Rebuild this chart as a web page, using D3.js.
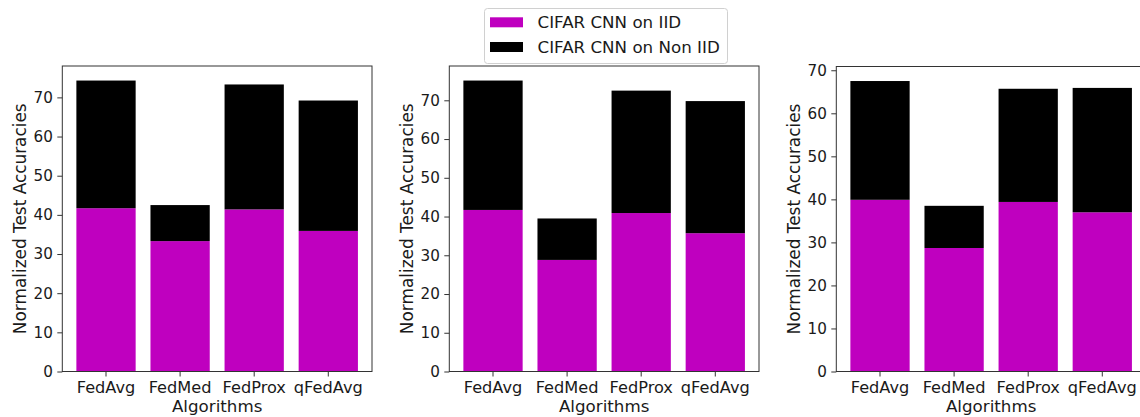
<!DOCTYPE html>
<html>
<head>
<meta charset="utf-8">
<script src="https://cdn.jsdelivr.net/npm/d3@7"></script>
<style>
  html, body { margin: 0; padding: 0; background: #fff; }
  svg { display: block; font-family: "DejaVu Sans", sans-serif; }
</style>
</head>
<body>
<svg id="chart" width="1140" height="417"></svg>
<script>
// Algorithms on the x axis
const algorithms = ["FedAvg", "FedMed", "FedProx", "qFedAvg"];

// Accuracy reached with IID data (lower segment of each stack)
const iidPanel1 = [41.7, 33.3, 41.4, 35.9];
const iidPanel2 = [41.7, 28.8, 40.9, 35.7];
const iidPanel3 = [39.9, 28.7, 39.4, 37.0];

// Additional accuracy with Non IID data (upper segment, stacked on IID)
const nonIidPanel1 = [32.6, 9.2, 31.9, 33.3];
const nonIidPanel2 = [33.4, 10.7, 31.6, 34.1];
const nonIidPanel3 = [27.6, 9.8, 26.3, 28.9];

const yTicks = [0, 10, 20, 30, 40, 50, 60, 70];
const seriesNames = ["CIFAR CNN on IID", "CIFAR CNN on Non IID"];
const seriesColors = ["#bf00bf", "#000000"];

const panels = [
  { iid: iidPanel1, non: nonIidPanel1, left: 62.3, top: 66 },
  { iid: iidPanel2, non: nonIidPanel2, left: 449.3, top: 66 },
  { iid: iidPanel3, non: nonIidPanel3, left: 836.3, top: 66.5 }
];

const axW = 309.7, axBottom = 371.5;
const xTickFont = 16.2;
const yTickFont = 15.2;
const labelFont = 16.7;
const textColor = "#1a1a1a";
const svg = d3.select("#chart");

panels.forEach(p => {
  const totals = p.iid.map((v, i) => v + p.non[i]);
  const yMax = d3.max(totals) * 1.05;

  const x = d3.scaleBand()
    .domain(algorithms)
    .range([p.left, p.left + axW])
    .paddingInner(0.2)
    .paddingOuter(0.19);
  const y = d3.scaleLinear().domain([0, yMax]).range([axBottom, p.top]);

  const g = svg.append("g");

  // stacked bars: IID at the bottom, Non IID on top
  g.selectAll("rect.iid").data(algorithms).join("rect")
    .attr("x", d => x(d))
    .attr("width", x.bandwidth())
    .attr("y", (d, i) => y(p.iid[i]))
    .attr("height", (d, i) => y(0) - y(p.iid[i]))
    .attr("fill", seriesColors[0]);

  g.selectAll("rect.non").data(algorithms).join("rect")
    .attr("x", d => x(d))
    .attr("width", x.bandwidth())
    .attr("y", (d, i) => y(p.iid[i] + p.non[i]))
    .attr("height", (d, i) => y(p.iid[i]) - y(p.iid[i] + p.non[i]))
    .attr("fill", seriesColors[1]);

  // frame
  g.append("rect")
    .attr("x", p.left).attr("y", p.top)
    .attr("width", axW).attr("height", axBottom - p.top)
    .attr("fill", "none").attr("stroke", "#333").attr("stroke-width", 1);

  // axes
  const yAxis = d3.axisLeft(y).tickValues(yTicks).tickSize(5).tickPadding(4.5);
  const ya = g.append("g").attr("transform", `translate(${p.left},0)`).call(yAxis);
  const xAxis = d3.axisBottom(x).tickSize(5).tickPadding(4.5);
  const xa = g.append("g").attr("transform", `translate(0,${axBottom})`).call(xAxis);
  [ya, xa].forEach(a => {
    a.attr("font-family", null).attr("font-size", null);
    a.select(".domain").remove();
    a.selectAll("line").attr("stroke", "#333");
    a.selectAll("text").attr("fill", textColor);
  });
  ya.selectAll("text").attr("font-size", yTickFont);
  xa.selectAll("text").attr("font-size", xTickFont);

  // axis titles
  g.append("text")
    .attr("transform", `translate(${p.left - 36.7},${(p.top + axBottom) / 2}) rotate(-90)`)
    .attr("text-anchor", "middle")
    .attr("font-size", 16.9).attr("fill", textColor)
    .text("Normalized Test Accuracies");

  g.append("text")
    .attr("x", p.left + axW / 2)
    .attr("y", 411.5)
    .attr("text-anchor", "middle")
    .attr("font-size", labelFont).attr("fill", textColor)
    .text("Algorithms");
});

// legend
const lg = svg.append("g");
lg.append("rect")
  .attr("x", 484.5).attr("y", 8.5).attr("width", 243).attr("height", 55)
  .attr("rx", 3).attr("fill", "#fff").attr("fill-opacity", 0.8)
  .attr("stroke", "#d0d0d0").attr("stroke-width", 1);
seriesNames.forEach((name, i) => {
  const cy = 22.3 + i * 24.7;
  lg.append("rect")
    .attr("x", 490).attr("y", cy - 5).attr("width", 33).attr("height", 10)
    .attr("fill", seriesColors[i]);
  lg.append("text")
    .attr("x", 537.5).attr("y", cy)
    .attr("dominant-baseline", "central")
    .attr("font-size", labelFont).attr("fill", textColor)
    .text(name);
});
</script>
</body>
</html>
